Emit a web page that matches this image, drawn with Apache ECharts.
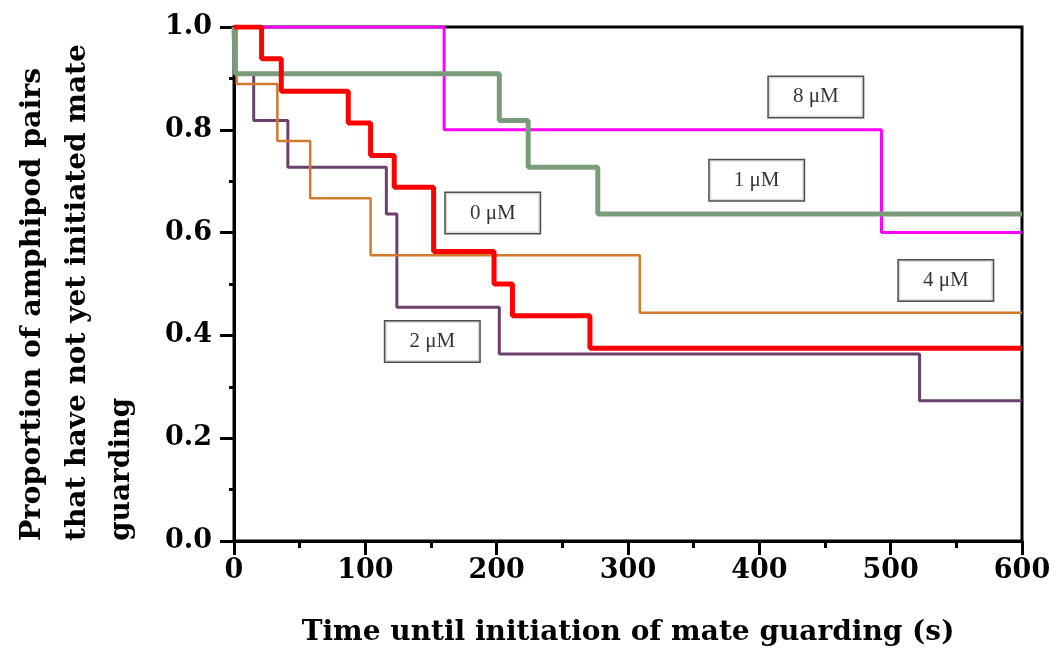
<!DOCTYPE html>
<html>
<head>
<meta charset="utf-8">
<script src="https://cdn.jsdelivr.net/npm/echarts@6/dist/echarts.min.js"></script>
<style>
  html, body { margin: 0; padding: 0; background: #fff; }
  #main { width: 1059px; height: 658px; }
</style>
</head>
<body>
<div id="main"></div>
<script>
// event times (s) and proportion not yet guarding after each event
const time0 = [0, 21, 36, 87, 104, 122, 152, 198, 212, 271, 600];
const surv0 = [1.0, 0.938, 0.875, 0.813, 0.75, 0.688, 0.563, 0.5, 0.438, 0.375, 0.375];

const time1 = [0, 1, 202, 224, 277, 600];
const surv1 = [1.0, 0.909, 0.818, 0.727, 0.636, 0.636];

const time2 = [0, 1, 15, 41, 116, 124, 202, 522, 600];
const surv2 = [1.0, 0.909, 0.818, 0.727, 0.636, 0.455, 0.364, 0.273, 0.273];

const time4 = [0, 2, 33, 58, 104, 309, 600];
const surv4 = [1.0, 0.889, 0.778, 0.667, 0.556, 0.444, 0.444];

const time8 = [0, 160, 493, 600];
const surv8 = [1.0, 0.8, 0.6, 0.6];

const xTicks = [0, 100, 200, 300, 400, 500, 600];
const yTicks = [0.0, 0.2, 0.4, 0.6, 0.8, 1.0];

// label boxes: [time, proportion, text]
const boxLabels = [
    [443, 0.864, '8 μM'],
    [398, 0.702, '1 μM'],
    [542, 0.507, '4 μM'],
    [197, 0.638, '0 μM'],
    [151, 0.388, '2 μM']
];

const pairs = (t, s) => t.map((v, i) => [v, s[i]]);

var chart = echarts.init(document.getElementById('main'));

const stepLine = (name, t, s, color, width) => ({
    name: name,
    type: 'line',
    step: 'end',
    symbol: 'none',
    data: pairs(t, s),
    lineStyle: { color: color, width: width },
    itemStyle: { color: color },
    animation: false
});

const serif = 'DejaVu Serif';

var option = {
    animation: false,
    grid: {
        left: 234, right: 37, top: 27, bottom: 117,
        show: true, borderColor: '#000', borderWidth: 3
    },
    xAxis: {
        type: 'value',
        min: xTicks[0], max: xTicks[xTicks.length - 1], interval: 100,
        name: 'Time until initiation of mate guarding (s)',
        nameLocation: 'middle',
        nameGap: 78,
        nameTextStyle: { fontFamily: serif, fontWeight: 'bold', fontSize: 28, color: '#000' },
        axisLine: { lineStyle: { color: '#000', width: 3 } },
        axisTick: { inside: false, length: 14, lineStyle: { color: '#000', width: 3 } },
        minorTick: { show: true, splitNumber: 2, length: 7, lineStyle: { color: '#000', width: 3 } },
        axisLabel: { fontFamily: serif, fontWeight: 'bold', fontSize: 27, color: '#000', margin: 16 },
        splitLine: { show: false }
    },
    yAxis: {
        type: 'value',
        min: yTicks[0], max: yTicks[yTicks.length - 1], interval: 0.2,
        axisLine: { lineStyle: { color: '#000', width: 3 } },
        axisTick: { inside: false, length: 14, lineStyle: { color: '#000', width: 3 } },
        minorTick: { show: true, splitNumber: 2, length: 5, lineStyle: { color: '#000', width: 3 } },
        axisLabel: {
            fontFamily: serif, fontWeight: 'bold', fontSize: 27, color: '#000', margin: 22,
            formatter: v => v.toFixed(1)
        },
        splitLine: { show: false }
    },
    graphic: [
        { type: 'text', x: 33, y: 541, rotation: Math.PI / 2,
          style: { text: 'Proportion of amphipod pairs', font: 'bold 28.5px "DejaVu Serif"', fill: '#000', align: 'left', verticalAlign: 'middle' } },
        { type: 'text', x: 78, y: 541, rotation: Math.PI / 2,
          style: { text: 'that have not yet initiated mate', font: 'bold 28px "DejaVu Serif"', fill: '#000', align: 'left', verticalAlign: 'middle' } },
        { type: 'text', x: 122, y: 541, rotation: Math.PI / 2,
          style: { text: 'guarding', font: 'bold 28px "DejaVu Serif"', fill: '#000', align: 'left', verticalAlign: 'middle' } }
    ],
    series: [
        stepLine('8 μM', time8, surv8, '#ff00ff', 3),
        stepLine('2 μM', time2, surv2, '#6c406c', 3),
        stepLine('4 μM', time4, surv4, '#cf7a2c', 2.5),
        stepLine('1 μM', time1, surv1, '#7b9c7b', 5),
        stepLine('0 μM', time0, surv0, '#ff0000', 5),
        {
            type: 'scatter',
            symbolSize: 1,
            itemStyle: { color: 'rgba(0,0,0,0)' },
            z: 10,
            data: boxLabels.map(b => ({ value: [b[0], b[1]], name: b[2] })),
            label: {
                show: true,
                position: 'inside',
                formatter: p => p.name,
                fontFamily: 'Liberation Serif',
                fontSize: 21,
                color: '#000',
                backgroundColor: '#fff',
                borderColor: '#222',
                borderWidth: 1.5,
                width: 94,
                height: 40,
                lineHeight: 40,
                align: 'center',
                verticalAlign: 'middle'
            },
            animation: false
        }
    ]
};

chart.setOption(option);
</script>
</body>
</html>
